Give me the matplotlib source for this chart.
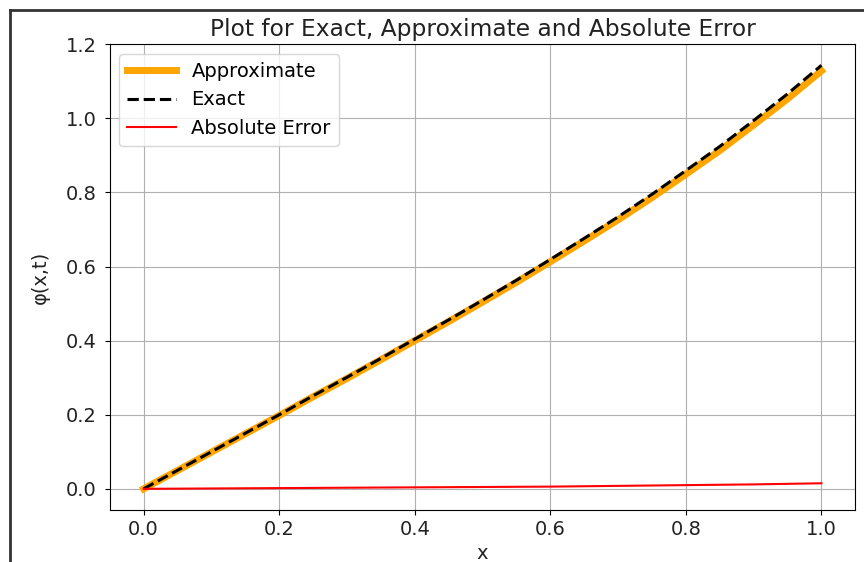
import matplotlib.pyplot as plt
from matplotlib.lines import Line2D

# Sample points along x and the three curves
x = [0.0, 0.05, 0.1, 0.15, 0.2, 0.25, 0.3, 0.35, 0.4, 0.45, 0.5,
     0.55, 0.6, 0.65, 0.7, 0.75, 0.8, 0.85, 0.9, 0.95, 1.0]
exact = [0.0, 0.050, 0.100, 0.150, 0.200, 0.251, 0.301, 0.352, 0.404, 0.456, 0.509,
         0.563, 0.619, 0.676, 0.734, 0.795, 0.859, 0.924, 0.994, 1.066, 1.143]
approximate = [0.0, 0.0495, 0.099, 0.1485, 0.198, 0.2485, 0.298, 0.3485, 0.400, 0.4515, 0.504,
               0.5575, 0.613, 0.669, 0.726, 0.786, 0.849, 0.913, 0.982, 1.0525, 1.128]
abs_error = [0.0, 0.0005, 0.001, 0.0015, 0.002, 0.0025, 0.003, 0.0035, 0.004, 0.0045, 0.005,
             0.0055, 0.006, 0.007, 0.008, 0.009, 0.010, 0.011, 0.012, 0.0135, 0.015]

plt.rcParams['font.size'] = 14

fig = plt.figure(figsize=(8.64, 5.62), dpi=100)
ax = fig.add_axes([0.127, 0.0925, 0.863, 0.829])

ax.plot(x, approximate, color='orange', linewidth=5, label='Approximate')
ax.plot(x, exact, color='black', linestyle='--', linewidth=2.2, label='Exact')
ax.plot(x, abs_error, color='red', linewidth=1.5, label='Absolute Error')

ax.set_title('Plot for Exact, Approximate and Absolute Error', pad=6, color='#222222')
ax.set_xlabel('x', color='#222222')
ax.set_ylabel('φ(x,t)', color='#222222')
ax.xaxis.set_label_coords(0.5, -0.072)
ax.yaxis.set_label_coords(-0.08, 0.5)
ax.set_xticks([0.0, 0.2, 0.4, 0.6, 0.8, 1.0])
ax.set_yticks([0.0, 0.2, 0.4, 0.6, 0.8, 1.0, 1.2])
ax.tick_params(axis='y', pad=6)
ax.tick_params(labelcolor='#222222')
ax.grid(True)
ax.legend(loc='upper left', handlelength=2.5)

# frame lines around the figure
fig.add_artist(Line2D([10 / 864, 10 / 864], [0, 1 - 10 / 562], color='#333333', linewidth=2, transform=fig.transFigure))
fig.add_artist(Line2D([10 / 864, 1], [1 - 10 / 562, 1 - 10 / 562], color='#333333', linewidth=2, transform=fig.transFigure))

fig.savefig('out.png', dpi=100)
